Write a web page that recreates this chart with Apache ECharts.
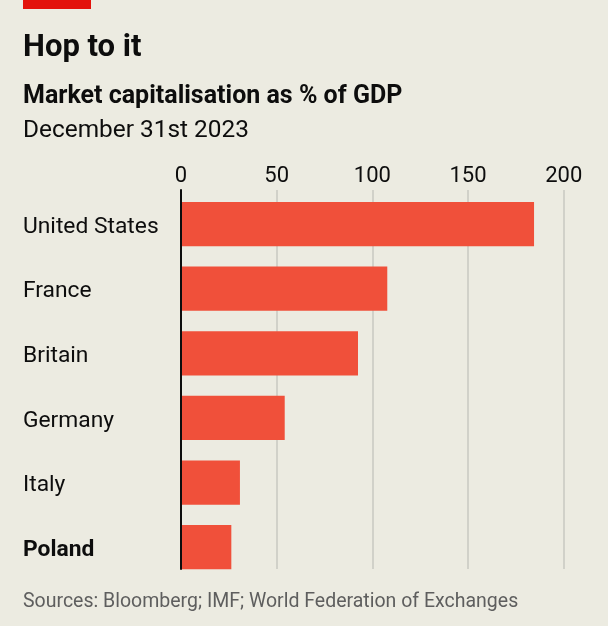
<!DOCTYPE html>
<html>
<head>
<meta charset="utf-8">
<script src="https://cdn.jsdelivr.net/npm/echarts@6/dist/echarts.min.js"></script>
<style>
html,body{margin:0;padding:0;background:#ecebe1;}
#c{width:608px;height:626px;}
</style>
</head>
<body>
<div id="c"></div>
<script>
const categories = ["United States", "France", "Britain", "Germany", "Italy", "Poland"];
const values = [184.5, 107.8, 92.5, 54.2, 30.8, 26.3];
const tickValues = [0, 50, 100, 150, 200];

const FONT = "Roboto";
const chart = echarts.init(document.getElementById('c'), null, {renderer: 'canvas'});
const option = {
  backgroundColor: '#ecebe1',
  animation: false,
  graphic: [
    {type: 'rect', shape: {x: 23, y: 0, width: 68, height: 9}, style: {fill: '#e3120b'}},
    {type: 'text', left: 23, top: 33, style: {text: 'Hop to it', font: 'bold 31px ' + FONT, fill: '#0d0d0d'}},
    {type: 'text', left: 23, top: 84, style: {text: 'Market capitalisation as % of GDP', font: 'bold 25px ' + FONT, fill: '#0d0d0d'}},
    {type: 'text', left: 23, top: 119, style: {text: 'December 31st 2023', font: '24.4px ' + FONT, fill: '#0d0d0d'}},
    {type: 'text', left: 23, top: 592, style: {text: 'Sources: Bloomberg; IMF; World Federation of Exchanges', font: '19.5px ' + FONT, fill: '#5e5e5e'}}
  ],
  grid: [
    {left: 181, top: 191.7, width: 382.7, height: 387.8},
    {left: 181, top: 190, width: 382.7, height: 379}
  ],
  xAxis: [
    {gridIndex: 0, type: 'value', min: 0, max: 200, interval: 50, show: false},
    {gridIndex: 1, type: 'value', min: 0, max: 200, interval: 50, position: 'top',
     axisLine: {show: false}, axisTick: {show: false},
     axisLabel: {show: true, margin: 3, color: '#0d0d0d', fontSize: 22, fontFamily: FONT,
       formatter: v => tickValues.includes(v) ? String(v) : ''},
     splitLine: {show: true, lineStyle: {color: '#c9c8c0', width: 1.5}}}
  ],
  yAxis: [
    {gridIndex: 0, type: 'category', data: categories, inverse: true,
     axisLine: {show: false}, axisTick: {show: false}, splitLine: {show: false},
     axisLabel: {align: 'left', margin: 158, color: '#0d0d0d', fontSize: 22.8, fontFamily: FONT,
       padding: [6, 0, 0, 0],
       formatter: v => v === 'Poland' ? '{b|' + v + '}' : v,
       rich: {b: {fontWeight: 'bold', fontSize: 22.8, fontFamily: FONT, color: '#0d0d0d'}}}},
    {gridIndex: 1, type: 'value', min: 0, max: 1, z: 5,
     axisLine: {show: true, lineStyle: {color: '#0d0d0d', width: 2}},
     axisTick: {show: false}, axisLabel: {show: false}, splitLine: {show: false}}
  ],
  series: [
    {type: 'bar', xAxisIndex: 0, yAxisIndex: 0, data: values, barCategoryGap: '31.5%',
     itemStyle: {color: '#f0503a'}, z: 2}
  ]
};
chart.setOption(option);
</script>
</body>
</html>
